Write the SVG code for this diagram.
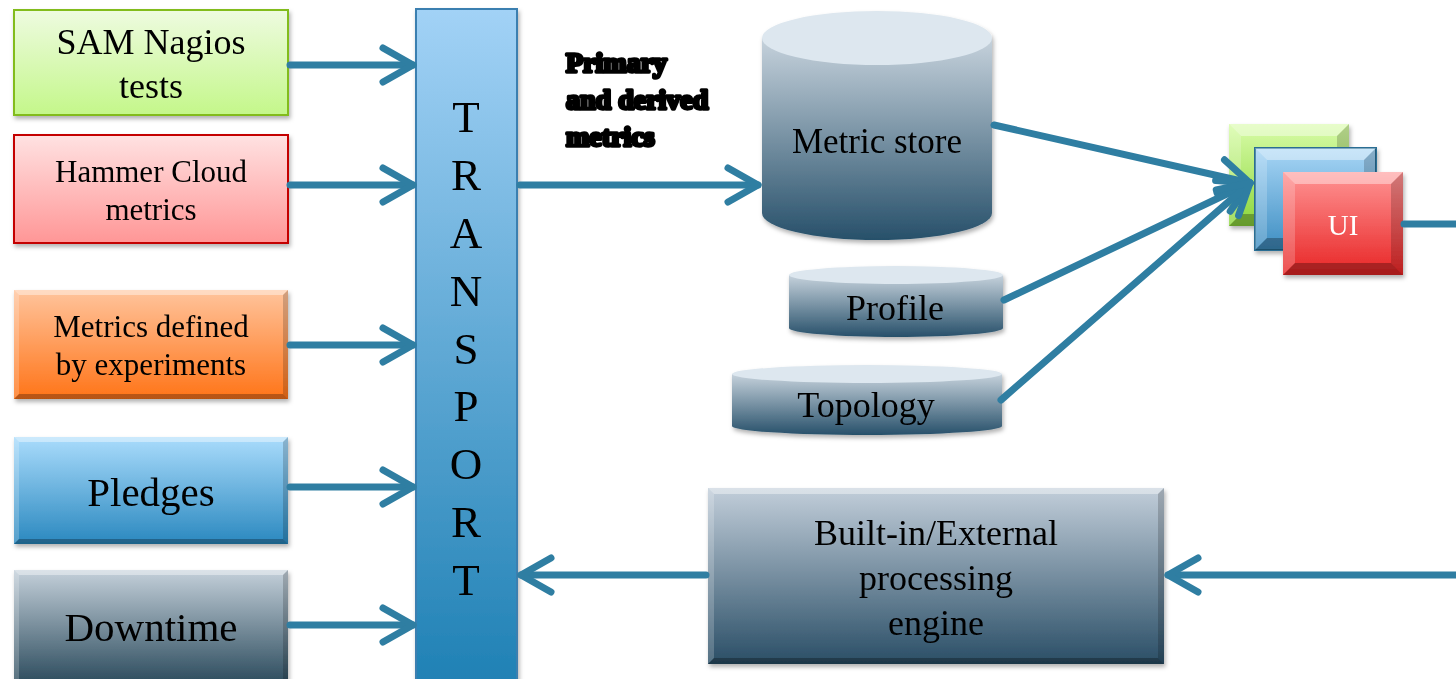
<svg xmlns="http://www.w3.org/2000/svg" width="1456" height="679" viewBox="0 0 1456 679">
  <style>
    .t { font-family: "Liberation Serif", "Times New Roman", serif; fill: #000; text-anchor: middle; }
    .lbl { font-family: "Liberation Serif", "Times New Roman", serif; font-weight: bold; font-size: 28px; fill: #000; stroke: #000; stroke-width: 3.4px; stroke-linejoin: round; }
    .conn { fill: none; stroke: #2f7ea2; stroke-width: 7; stroke-linecap: round; stroke-linejoin: round; }
    .bt { fill: #fff; fill-opacity: 0.4; }
    .bl { fill: #fff; fill-opacity: 0.2; }
    .br { fill: #000; fill-opacity: 0.18; }
    .bb { fill: #000; fill-opacity: 0.28; }
  </style>
  <defs>
    <linearGradient id="gGreen" x1="0" y1="0" x2="0" y2="1"><stop offset="0" stop-color="#eefbe0"/><stop offset="1" stop-color="#c4f78a"/></linearGradient>
    <linearGradient id="gRed" x1="0" y1="0" x2="0" y2="1"><stop offset="0" stop-color="#ffe2e2"/><stop offset="1" stop-color="#ff9696"/></linearGradient>
    <linearGradient id="gOrange" x1="0" y1="0" x2="0" y2="1"><stop offset="0" stop-color="#ffc49c"/><stop offset="1" stop-color="#ff7418"/></linearGradient>
    <linearGradient id="gBlue" x1="0" y1="0" x2="0" y2="1"><stop offset="0" stop-color="#aadcfc"/><stop offset="1" stop-color="#2a88bf"/></linearGradient>
    <linearGradient id="gSlate" x1="0" y1="0" x2="0" y2="1"><stop offset="0" stop-color="#c4d0da"/><stop offset="1" stop-color="#264658"/></linearGradient>
    <linearGradient id="gEngine" x1="0" y1="0" x2="0" y2="1"><stop offset="0" stop-color="#c2ceda"/><stop offset="1" stop-color="#2a4e66"/></linearGradient>
    <linearGradient id="gTransport" x1="0" y1="0" x2="0" y2="1"><stop offset="0" stop-color="#a2d2f6"/><stop offset="1" stop-color="#1e80b4"/></linearGradient>
    <linearGradient id="gCyl" x1="0" y1="0" x2="0" y2="1"><stop offset="0" stop-color="#c6d2dc"/><stop offset="1" stop-color="#27506a"/></linearGradient>
    <linearGradient id="gUiGreen" x1="0" y1="0" x2="0" y2="1"><stop offset="0" stop-color="#d8fca8"/><stop offset="1" stop-color="#8cd63c"/></linearGradient>
    <linearGradient id="gUiBlue" x1="0" y1="0" x2="0" y2="1"><stop offset="0" stop-color="#a8d6f6"/><stop offset="1" stop-color="#3e8ec2"/></linearGradient>
    <linearGradient id="gUiRed" x1="0" y1="0" x2="0" y2="1"><stop offset="0" stop-color="#ff9494"/><stop offset="1" stop-color="#e82626"/></linearGradient>
    <filter id="shadow" x="-10%" y="-10%" width="120%" height="130%">
      <feDropShadow dx="1.5" dy="3" stdDeviation="2" flood-color="#000" flood-opacity="0.3"/>
    </filter>
    <filter id="soft" x="-5%" y="-10%" width="110%" height="120%">
      <feGaussianBlur stdDeviation="0.6"/>
    </filter>
    <marker id="chev" markerUnits="userSpaceOnUse" viewBox="-36 -22 42 44" refX="0" refY="0" markerWidth="42" markerHeight="44" orient="auto" overflow="visible">
      <path d="M-30,-17 L0,0 L-30,17" fill="none" stroke="#2f7ea2" stroke-width="7" stroke-linecap="round" stroke-linejoin="round"/>
    </marker>
  </defs>

  <rect width="1456" height="679" fill="#fff"/>

  <!-- source boxes -->
  <g id="sam-nagios" filter="url(#shadow)">
    <rect x="14" y="10" width="274" height="105" fill="url(#gGreen)" stroke="#82bc1e" stroke-width="2"/>
    <text class="t" x="151" y="54" font-size="36">SAM Nagios</text>
    <text class="t" x="151" y="98" font-size="36">tests</text>
  </g>
  <g id="hammer-cloud" filter="url(#shadow)">
    <rect x="14" y="135" width="274" height="108" fill="url(#gRed)" stroke="#c40000" stroke-width="2"/>
    <text class="t" x="151" y="182" font-size="31">Hammer Cloud</text>
    <text class="t" x="151" y="220" font-size="31">metrics</text>
  </g>
  <g id="experiment-metrics" filter="url(#shadow)">
    <rect x="14" y="290" width="274" height="109" fill="url(#gOrange)"/>
    <polygon class="bt" points="14,290 288,290 283,295 19,295"/>
    <polygon class="bl" points="14,290 19,295 19,394 14,399"/>
    <polygon class="br" points="288,290 288,399 283,394 283,295"/>
    <polygon class="bb" points="14,399 19,394 283,394 288,399"/>
    <text class="t" x="151" y="337" font-size="31">Metrics defined</text>
    <text class="t" x="151" y="375" font-size="31">by experiments</text>
  </g>
  <g id="pledges" filter="url(#shadow)">
    <rect x="14" y="437" width="274" height="107" fill="url(#gBlue)"/>
    <polygon class="bt" points="14,437 288,437 283,442 19,442"/>
    <polygon class="bl" points="14,437 19,442 19,539 14,544"/>
    <polygon class="br" points="288,437 288,544 283,539 283,442"/>
    <polygon class="bb" points="14,544 19,539 283,539 288,544"/>
    <text class="t" x="151" y="506" font-size="41">Pledges</text>
  </g>
  <g id="downtime" filter="url(#shadow)">
    <rect x="14" y="570" width="274" height="118" fill="url(#gSlate)"/>
    <polygon class="bt" points="14,570 288,570 283,575 19,575"/>
    <polygon class="bl" points="14,570 19,575 19,688 14,688"/>
    <polygon class="br" points="288,570 288,688 283,688 283,575"/>
    <text class="t" x="151" y="641" font-size="41">Downtime</text>
  </g>

  <!-- transport bus -->
  <g id="transport" filter="url(#shadow)">
    <rect x="416" y="9" width="101" height="680" fill="url(#gTransport)" stroke="#3a7fb0" stroke-width="2"/>
    <g class="t" font-size="45">
      <text x="466" y="132">T</text>
      <text x="466" y="190">R</text>
      <text x="466" y="248">A</text>
      <text x="466" y="306">N</text>
      <text x="466" y="364">S</text>
      <text x="466" y="421">P</text>
      <text x="466" y="479">O</text>
      <text x="466" y="537">R</text>
      <text x="466" y="595">T</text>
    </g>
  </g>

  <!-- flow label -->
  <g id="flow-label" filter="url(#soft)">
    <text class="lbl" x="566" y="72">Primary</text>
    <text class="lbl" x="566" y="109">and derived</text>
    <text class="lbl" x="566" y="146">metrics</text>
  </g>

  <!-- storage -->
  <g id="metric-store" filter="url(#shadow)">
    <path d="M762 38 V213 A115 27 0 0 0 992 213 V38 Z" fill="url(#gCyl)"/>
    <ellipse cx="877" cy="38" rx="115" ry="27" fill="#dde7ef"/>
    <text class="t" x="877" y="153" font-size="35">Metric store</text>
  </g>
  <g id="profile" filter="url(#shadow)">
    <path d="M789 275 V328 A107 9 0 0 0 1003 328 V275 Z" fill="url(#gCyl)"/>
    <ellipse cx="896" cy="275" rx="107" ry="9" fill="#dde7ef"/>
    <text class="t" x="895" y="320" font-size="36">Profile</text>
  </g>
  <g id="topology" filter="url(#shadow)">
    <path d="M732 374 V426 A135 9 0 0 0 1002 426 V374 Z" fill="url(#gCyl)"/>
    <ellipse cx="867" cy="374" rx="135" ry="9" fill="#dde7ef"/>
    <text class="t" x="866" y="417" font-size="36">Topology</text>
  </g>

  <!-- processing engine -->
  <g id="engine" filter="url(#shadow)">
    <rect x="708" y="488" width="456" height="176" fill="url(#gEngine)"/>
    <polygon class="bt" points="708,488 1164,488 1158,494 714,494"/>
    <polygon class="bl" points="708,488 714,494 714,658 708,664"/>
    <polygon class="br" points="1164,488 1164,664 1158,658 1158,494"/>
    <polygon class="bb" points="708,664 714,658 1158,658 1164,664"/>
    <text class="t" x="936" y="545" font-size="36">Built-in/External</text>
    <text class="t" x="936" y="590" font-size="36">processing</text>
    <text class="t" x="936" y="635" font-size="36">engine</text>
  </g>

  <!-- user interface stack -->
  <g id="ui" filter="url(#shadow)">
    <rect x="1229" y="124" width="120" height="102" fill="url(#gUiGreen)"/>
    <polygon class="bt" points="1229,124 1349,124 1337,136 1241,136"/>
    <polygon class="bl" points="1229,124 1241,136 1241,214 1229,226"/>
    <polygon class="br" points="1349,124 1349,226 1337,214 1337,136"/>
    <polygon class="bb" points="1229,226 1241,214 1337,214 1349,226"/>

    <rect x="1255" y="148" width="121" height="102" fill="url(#gUiBlue)" stroke="#2a6e94" stroke-width="2"/>
    <polygon class="bt" points="1255,148 1376,148 1364,160 1267,160"/>
    <polygon class="bl" points="1255,148 1267,160 1267,238 1255,250"/>
    <polygon class="br" points="1376,148 1376,250 1364,238 1364,160"/>
    <polygon class="bb" points="1255,250 1267,238 1364,238 1376,250"/>

    <rect x="1283" y="172" width="120" height="103" fill="url(#gUiRed)"/>
    <polygon class="bt" points="1283,172 1403,172 1391,184 1295,184"/>
    <polygon class="bl" points="1283,172 1295,184 1295,263 1283,275"/>
    <polygon class="br" points="1403,172 1403,275 1391,263 1391,184"/>
    <polygon class="bb" points="1283,275 1295,263 1391,263 1403,275"/>
    <text class="t" x="1343" y="235" font-size="29" style="fill:#fff">UI</text>
  </g>

  <!-- connectors -->
  <g id="connectors">
    <path class="conn" d="M290 65 H413" marker-end="url(#chev)"/>
    <path class="conn" d="M290 185 H413" marker-end="url(#chev)"/>
    <path class="conn" d="M290 345 H413" marker-end="url(#chev)"/>
    <path class="conn" d="M290 487 H413" marker-end="url(#chev)"/>
    <path class="conn" d="M290 625 H413" marker-end="url(#chev)"/>
    <path class="conn" d="M520 185 H758" marker-end="url(#chev)"/>
    <path class="conn" d="M994 125 L1250 183" marker-end="url(#chev)"/>
    <path class="conn" d="M1004 300 L1250 183" marker-end="url(#chev)"/>
    <path class="conn" d="M1001 400 L1250 183" marker-end="url(#chev)"/>
    <path class="conn" d="M1404 224 H1464 V575 H1168" marker-end="url(#chev)"/>
    <path class="conn" d="M706 575 H521" marker-end="url(#chev)"/>
  </g>
</svg>
